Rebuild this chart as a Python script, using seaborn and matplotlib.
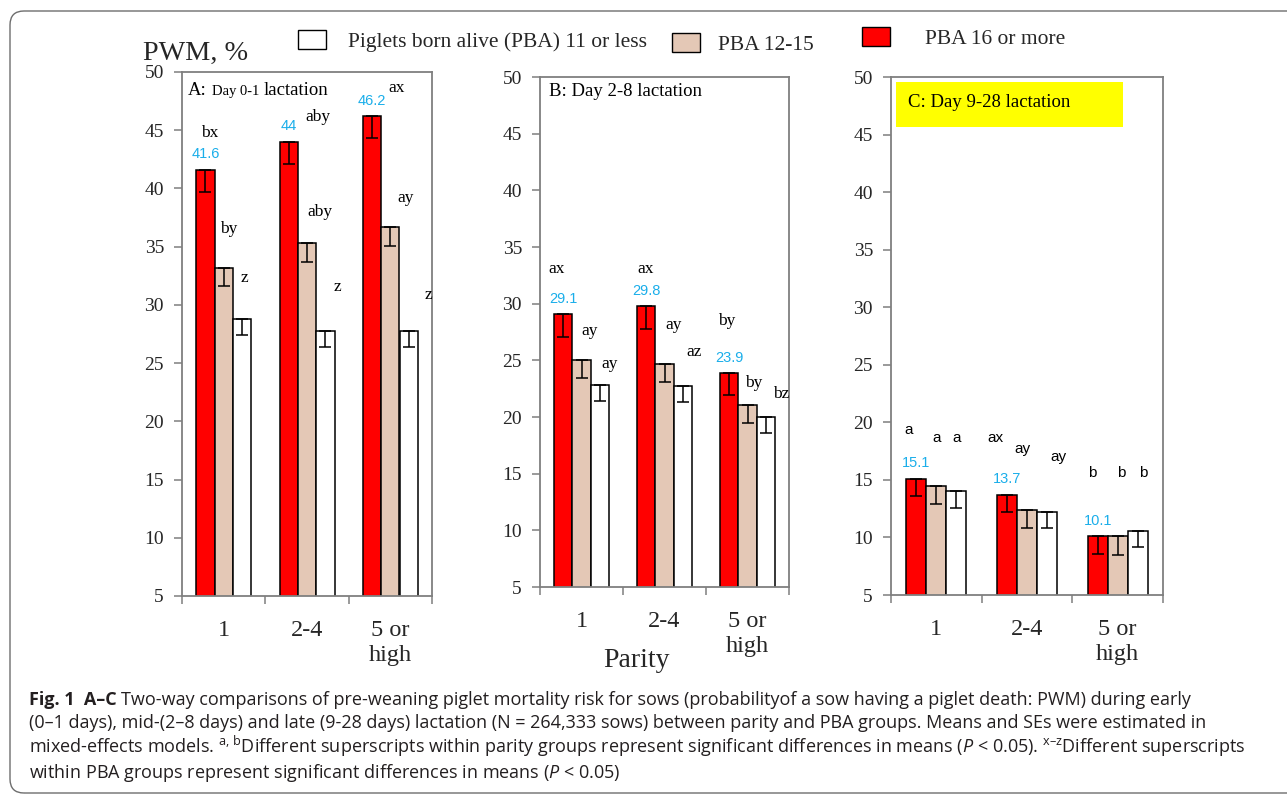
import numpy as np
import pandas as pd
import matplotlib
matplotlib.use("Agg")
import matplotlib.pyplot as plt
import seaborn as sns
from matplotlib.patches import FancyBboxPatch, Patch, Rectangle
from matplotlib.offsetbox import TextArea, HPacker, AnnotationBbox
from matplotlib.ticker import FixedLocator

# ---- data -------------------------------------------------------------
parity = ["1", "2-4", "5 or\nhigh"]
pba_groups = ["PBA 16 or more", "PBA 12-15", "PBA 11 or less"]
legend_labels = ["Piglets born alive (PBA) 11 or less", "PBA 12-15", "PBA 16 or more"]

# A: Day 0-1 lactation (means and SEs, %)
a_pba16 = [41.6, 44.0, 46.2]
a_pba12 = [33.2, 35.3, 36.7]
a_pba11 = [28.8, 27.8, 27.8]
a_se16 = [1.9, 1.9, 1.9]
a_se12 = [1.6, 1.6, 1.6]
a_se11 = [1.4, 1.4, 1.4]
a_sig16 = ["bx", "aby", "ax"]
a_sig12 = ["by", "aby", "ay"]
a_sig11 = ["z", "z", "z"]

# B: Day 2-8 lactation
b_pba16 = [29.1, 29.8, 23.9]
b_pba12 = [25.0, 24.7, 21.1]
b_pba11 = [22.8, 22.7, 20.0]
b_se16 = [2.0, 2.0, 2.0]
b_se12 = [1.6, 1.6, 1.6]
b_se11 = [1.4, 1.4, 1.4]
b_sig16 = ["ax", "ax", "by"]
b_sig12 = ["ay", "ay", "by"]
b_sig11 = ["ay", "az", "bz"]

# C: Day 9-28 lactation
c_pba16 = [15.1, 13.7, 10.1]
c_pba12 = [14.5, 12.4, 10.1]
c_pba11 = [14.0, 12.2, 10.6]
c_se16 = [1.5, 1.5, 1.5]
c_se12 = [1.6, 1.6, 1.6]
c_se11 = [1.4, 1.4, 1.4]
c_sig16 = ["a", "ax", "b"]
c_sig12 = ["a", "ay", "b"]
c_sig11 = ["a", "ay", "b"]

# ---- styling ----------------------------------------------------------
sns.set_style("ticks")
SERIF = ["Liberation Serif", "DejaVu Serif"]
SANS = ["Liberation Sans", "DejaVu Sans"]
CAP = ["Open Sans", "DejaVu Sans"]
plt.rcParams["font.family"] = SERIF
plt.rcParams["mathtext.fontset"] = "custom"
plt.rcParams["mathtext.rm"] = "Open Sans"
plt.rcParams["mathtext.it"] = "Open Sans:italic"
plt.rcParams["mathtext.bf"] = "Open Sans:bold"

GREY = "#7f7f7f"
BAR_COLORS = ["#ff0000", "#e4c8b6", "#ffffff"]
VALUE_BLUE = "#1aaeea"
TEXT_DARK = "#231f20"

# where the significance letters sit inside each panel (data coords)
sig_pos_a = [[(-0.164, 44.8), (1.132, 46.1), (2.08, 48.6)],
             [(0.064, 36.5), (1.156, 38.0), (2.188, 39.2)],
             [(0.244, 32.3), (1.36, 31.5), (2.452, 30.85)]]
sig_pos_b = [[(-0.295, 33.1), (0.777, 33.1), (1.749, 28.5)],
             [(0.102, 27.6), (1.106, 28.1), (2.07, 23.0)],
             [(0.343, 24.7), (1.359, 25.7), (2.4, 22.0)]]
sig_pos_c = [[(-0.301, 19.3), (0.652, 18.6), (1.722, 15.6)],
             [(0.006, 18.6), (0.947, 17.7), (2.044, 15.6)],
             [(0.22, 18.6), (1.343, 17.0), (2.277, 15.6)]]

fig = plt.figure(figsize=(12.87, 7.97), dpi=100)
W, H = 1287.0, 797.0


def axes_px(left, top, right, bottom):
    return fig.add_axes([left / W, (H - bottom) / H, (right - left) / W, (bottom - top) / H])


def draw_panel(ax, means, ses, sigs, sig_pos, sig_family, sig_size):
    df = pd.DataFrame({
        "parity": parity * 3,
        "group": np.repeat(pba_groups, 3),
        "pwm": np.concatenate(means),
    })
    sns.barplot(data=df, x="parity", y="pwm", hue="group", order=parity,
                hue_order=pba_groups, palette=BAR_COLORS, saturation=1,
                width=0.66, edgecolor="black", linewidth=1.1, errorbar=None,
                legend=False, ax=ax, zorder=2)
    bars = list(ax.containers)
    for cont, se in zip(bars, ses):
        xs = [b.get_x() + b.get_width() / 2 for b in cont]
        hs = [b.get_height() for b in cont]
        ax.errorbar(xs, hs, yerr=[se, np.zeros(len(se))], fmt="none",
                    ecolor="black", elinewidth=1.1, capsize=4, capthick=1.1, zorder=3)
    # mean values above the PBA 16+ bars
    for b in bars[0]:
        v = b.get_height()
        ax.text(b.get_x() + b.get_width() / 2, v + 1.35, f"{v:g}", ha="center",
                va="center", color=VALUE_BLUE, fontsize=10.5, family=SANS)
    # significance letters
    for labs, poss in zip(sigs, sig_pos):
        for lab, (x, y) in zip(labs, poss):
            ax.text(x, y, lab, ha="center", va="center", fontsize=sig_size,
                    family=sig_family, color="black")

    ax.set_ylim(5, 50)
    ax.set_xlim(-0.5, 2.5)
    ax.set_yticks(range(5, 51, 5))
    ax.set_xlabel("")
    ax.set_ylabel("")
    ax.tick_params(axis="x", which="major", length=0, pad=17, labelsize=17.5)
    for lab in ax.get_xticklabels():
        lab.set_linespacing(1.3)
    ax.xaxis.set_minor_locator(FixedLocator([-0.5, 0.5, 1.5, 2.5]))
    ax.tick_params(axis="x", which="minor", length=5.5, width=1.1, color=GREY, direction="out")
    ax.tick_params(axis="y", length=6, width=1.1, color=GREY, labelsize=14, pad=7)
    for s in ax.spines.values():
        s.set_visible(True)
        s.set_color(GREY)
        s.set_linewidth(1.3)


def packed_title(ax, parts, x, y, sep=3.5):
    boxes = [TextArea(t, textprops=dict(fontsize=s, family=SERIF, color="black")) for t, s in parts]
    pack = HPacker(children=boxes, align="baseline", pad=0, sep=sep)
    ab = AnnotationBbox(pack, (x, y), xycoords="axes fraction", box_alignment=(0, 0.5),
                        frameon=False, pad=0, zorder=5)
    ax.add_artist(ab)


ax_a = axes_px(182, 72, 432, 596)
ax_b = axes_px(540, 77, 789, 587)
ax_c = axes_px(891, 77, 1163, 595)

draw_panel(ax_a, [a_pba16, a_pba12, a_pba11], [a_se16, a_se12, a_se11],
           [a_sig16, a_sig12, a_sig11], sig_pos_a, SERIF, 12.5)
draw_panel(ax_b, [b_pba16, b_pba12, b_pba11], [b_se16, b_se12, b_se11],
           [b_sig16, b_sig12, b_sig11], sig_pos_b, SERIF, 12.5)
draw_panel(ax_c, [c_pba16, c_pba12, c_pba11], [c_se16, c_se12, c_se11],
           [c_sig16, c_sig12, c_sig11], sig_pos_c, SANS, 11)

packed_title(ax_a, [("A:", 13.5), ("Day 0-1", 10.5), ("lactation", 13.5)], 0.024, 0.964)
packed_title(ax_b, [("B: Day 2-8 lactation", 13.5)], 0.036, 0.971)
ax_c.add_patch(Rectangle((0.018, 0.9035), 0.835, 0.0865, transform=ax_c.transAxes,
                         facecolor="#ffff00", edgecolor="none", zorder=4))
packed_title(ax_c, [("C: Day 9-28 lactation", 13.5)], 0.0625, 0.951)

# axis captions
fig.text(143 / W, (H - 60) / H, "PWM, %", fontsize=20.3, ha="left", va="baseline", family=SERIF)
fig.text(636 / W, (H - 667) / H, "Parity", fontsize=20, ha="center", va="baseline", family=SERIF)

# legend entries (white, tan, red) laid out across the top
legend_specs = [
    (BAR_COLORS[2], legend_labels[0], 298, 41, 1.02),
    (BAR_COLORS[1], legend_labels[1], 672, 44, 0.83),
    (BAR_COLORS[0], legend_labels[2], 862, 38, 1.62),
]
for color, label, x, y, pad in legend_specs:
    h = Patch(facecolor=color, edgecolor="black", linewidth=1.0)
    fig.legend(handles=[h], labels=[label], loc="center left",
               bbox_to_anchor=(x / W, (H - y) / H), frameon=False, borderpad=0,
               borderaxespad=0, handlelength=1.3, handleheight=1.0,
               handletextpad=pad, prop=dict(family=SERIF, size=15.5))

# figure caption
CAP_SIZE = 13
x0 = 29 / W
line1 = HPacker(children=[
    TextArea("Fig. 1  A\u2013C", textprops=dict(fontsize=CAP_SIZE, family=CAP, weight="bold", color=TEXT_DARK)),
    TextArea("Two-way comparisons of pre-weaning piglet mortality risk for sows (probabilityof a sow having a piglet death: PWM) during early",
             textprops=dict(fontsize=CAP_SIZE, family=CAP, color=TEXT_DARK)),
], align="baseline", pad=0, sep=3)
fig.add_artist(AnnotationBbox(line1, (x0, (H - 709) / H), xycoords="figure fraction",
                              box_alignment=(0, 0), frameon=False, pad=0))
caption_rest = [
    "(0\u20131 days), mid-(2\u20138 days) and late (9-28 days) lactation (N = 264,333 sows) between parity and PBA groups. Means and SEs were estimated in",
    "mixed-effects models. $^{\\mathrm{a,\\,b}}$Different superscripts within parity groups represent significant differences in means ($P$ < 0.05). $^{\\mathrm{x\u2013z}}$Different superscripts",
    "within PBA groups represent significant differences in means ($P$ < 0.05)",
]
for i, line in enumerate(caption_rest):
    fig.text(x0, (H - 728 - 25 * i) / H, line, fontsize=CAP_SIZE, family=CAP,
             color=TEXT_DARK, ha="left", va="baseline")

# rounded frame around the whole figure
fig.add_artist(FancyBboxPatch((0.10, 0.04), 13.5, 7.82,
                              boxstyle="round,pad=0,rounding_size=0.14",
                              transform=fig.dpi_scale_trans, fill=False,
                              edgecolor="#6d6d6d", linewidth=1.0))

fig.savefig("out.png", dpi=100)
